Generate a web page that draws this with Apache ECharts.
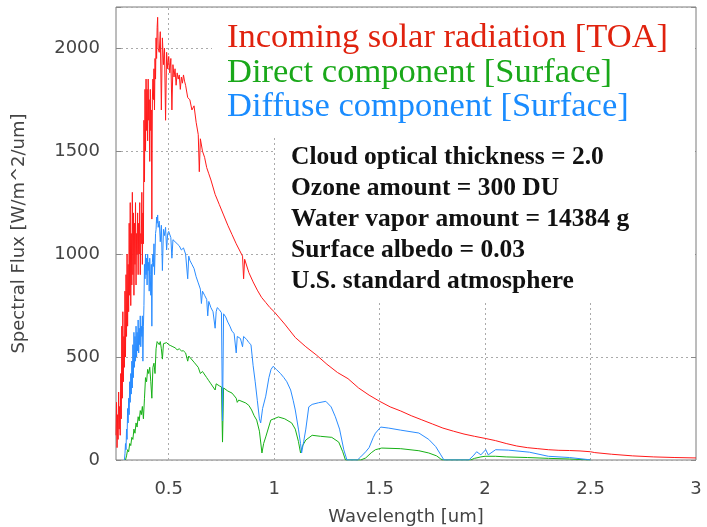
<!DOCTYPE html>
<html><head><meta charset="utf-8">
<script src="https://cdn.jsdelivr.net/npm/echarts@6/dist/echarts.min.js"></script>
<style>html,body{margin:0;padding:0;background:#fff}#c{width:707px;height:527px}</style>
</head><body><div id="c"></div><script>
// ---- data ----
const xGridValues = [0.5, 1, 1.5, 2, 2.5];
const legendTexts = ['Incoming solar radiation [TOA]', 'Direct component [Surface]', 'Diffuse component [Surface]'];
const infoTexts = ['Cloud optical thickness = 2.0', 'Ozone amount = 300 DU', 'Water vapor amount = 14384 g', 'Surface albedo = 0.03', 'U.S. standard atmosphere'];

const redWl = [0.2500,0.2525,0.2550,0.2575,0.2600,0.2625,0.2650,0.2675,0.2700,0.2725,0.2750,0.2775,0.2800,0.2825,0.2850,0.2875,0.2900,0.2925,0.2950,0.2975,0.3000,0.3025,0.3050,0.3075,0.3100,0.3125,0.3150,0.3175,0.3200,0.3225,0.3250,0.3275,0.3300,0.3325,0.3350,0.3375,0.3400,0.3425,0.3450,0.3475,0.3500,0.3525,0.3550,0.3575,0.3600,0.3625,0.3650,0.3675,0.3700,0.3725,0.3750,0.3775,0.3800,0.3825,0.3850,0.3875,0.3900,0.3925,0.3950,0.3975,0.4000,0.4025,0.4050,0.4075,0.4100,0.4125,0.4150,0.4175,0.4200,0.4225,0.4250,0.4275,0.4300,0.4325,0.4350,0.4375,0.4400,0.4425,0.4450,0.4475,0.4500,0.455,0.460,0.465,0.470,0.475,0.480,0.485,0.490,0.495,0.500,0.505,0.510,0.515,0.520,0.525,0.530,0.535,0.540,0.545,0.550,0.555,0.560,0.565,0.570,0.575,0.580,0.590,0.600,0.610,0.620,0.630,0.640,0.645,0.650,0.660,0.670,0.680,0.690,0.700,0.720,0.740,0.760,0.780,0.800,0.820,0.840,0.850,0.855,0.860,0.880,0.900,0.920,0.940,0.960,0.980,1.000,1.050,1.100,1.150,1.200,1.250,1.300,1.350,1.400,1.450,1.500,1.550,1.600,1.650,1.700,1.750,1.800,1.850,1.900,1.950,2.000,2.050,2.100,2.150,2.200,2.250,2.300,2.350,2.400,2.450,2.500,2.520,2.600,2.700,2.800,2.900,3.000];
const redFlux = [120,280,60,220,100,330,150,260,120,420,200,650,300,720,380,600,450,820,500,900,600,1000,650,950,720,1150,800,1250,750,1100,850,1300,900,1200,800,1150,950,1250,850,1100,1000,1200,900,1150,1000,1250,900,1100,1050,1300,950,1200,1050,1650,1350,1800,1500,1850,1600,1800,1550,1850,1650,1750,1450,1800,1600,1700,1170,1750,1850,1750,1900,1700,1950,1850,2050,1950,2100,2150,2000,1980,2080,1700,2050,1920,2000,1650,1980,1900,1960,1880,1950,1700,1920,1860,1900,1820,1880,1850,1870,1800,1860,1830,1870,1840,1820,1760,1750,1700,1720,1640,1580,1400,1560,1500,1470,1420,1390,1360,1290,1240,1190,1140,1095,1050,1010,990,880,975,910,865,825,790,765,740,720,660,595,550,510,465,425,395,350,315,285,258,238,215,195,175,155,140,126,115,105,94,80,68,60,55,50,47,46,44,40,36,28,20,15,12,10];

const greenWl = [0.295,0.300,0.305,0.310,0.315,0.320,0.325,0.330,0.335,0.340,0.345,0.350,0.355,0.360,0.365,0.370,0.375,0.380,0.385,0.390,0.395,0.400,0.405,0.410,0.415,0.420,0.425,0.430,0.435,0.440,0.445,0.450,0.455,0.460,0.465,0.470,0.475,0.480,0.490,0.500,0.510,0.520,0.530,0.540,0.550,0.560,0.570,0.580,0.590,0.595,0.600,0.620,0.640,0.650,0.660,0.680,0.690,0.700,0.720,0.725,0.740,0.750,0.755,0.760,0.780,0.800,0.820,0.825,0.832,0.865,0.880,0.893,0.905,0.917,0.930,0.942,0.950,0.960,0.984,1.020,1.050,1.083,1.100,1.115,1.125,1.135,1.150,1.180,1.220,1.273,1.306,1.325,1.338,1.410,1.434,1.460,1.480,1.510,1.600,1.686,1.733,1.770,1.790,1.800,1.930,1.950,1.980,2.000,2.050,2.100,2.200,2.300,2.400,2.500];
const greenFlux = [0,20,50,40,80,70,110,100,150,130,180,160,210,190,240,220,260,200,300,400,380,440,420,450,380,300,450,470,420,540,575,580,560,575,540,490,565,560,570,560,555,550,545,535,540,530,530,520,480,505,500,475,450,420,430,400,385,370,340,370,360,355,87,350,335,325,300,280,291,277,265,243,215,194,140,34,80,112,194,209,200,180,150,90,34,70,97,120,115,110,87,40,0,0,10,35,50,58,55,45,34,20,5,0,0,8,15,18,18,15,12,8,5,0];

const blueWl = [0.2900,0.2925,0.2950,0.2975,0.3000,0.3025,0.3050,0.3075,0.3100,0.3125,0.3150,0.3175,0.3200,0.3225,0.3250,0.3275,0.3300,0.3325,0.3350,0.3375,0.3400,0.3425,0.3450,0.3475,0.3500,0.3525,0.3550,0.3575,0.3600,0.3625,0.3650,0.3675,0.3700,0.3725,0.3750,0.3775,0.3800,0.3825,0.3850,0.3875,0.3900,0.3925,0.3950,0.3975,0.4000,0.4025,0.4050,0.4075,0.4100,0.4125,0.4150,0.4175,0.4200,0.4225,0.4250,0.4275,0.4300,0.4325,0.4350,0.4375,0.4400,0.4425,0.4450,0.4475,0.4500,0.455,0.460,0.465,0.470,0.475,0.480,0.485,0.490,0.495,0.500,0.510,0.515,0.520,0.530,0.540,0.550,0.560,0.570,0.580,0.590,0.595,0.600,0.610,0.620,0.630,0.640,0.650,0.655,0.660,0.670,0.680,0.685,0.690,0.700,0.710,0.720,0.725,0.730,0.740,0.750,0.755,0.760,0.770,0.780,0.790,0.800,0.810,0.820,0.825,0.840,0.850,0.855,0.870,0.880,0.890,0.900,0.910,0.920,0.930,0.936,0.945,0.960,0.975,0.985,0.995,1.010,1.030,1.046,1.060,1.078,1.090,1.100,1.115,1.125,1.130,1.140,1.150,1.164,1.180,1.210,1.245,1.270,1.290,1.310,1.330,1.345,1.395,1.410,1.434,1.450,1.470,1.480,1.505,1.543,1.600,1.686,1.733,1.766,1.790,1.805,1.923,1.947,1.960,1.980,2.003,2.015,2.050,2.110,2.210,2.300,2.400,2.480,2.500];
const blueFlux = [0,30,80,50,150,100,250,180,300,220,380,280,420,320,480,350,560,400,620,450,600,480,650,500,620,530,680,520,640,560,700,550,650,600,700,480,650,750,950,880,1000,900,980,850,1000,920,960,820,980,900,800,950,650,960,1000,940,1050,900,1000,1100,1120,1180,1150,1190,1130,1160,1060,1140,920,1120,1090,1130,1020,1100,1110,1080,980,1070,1060,1050,1040,1020,1030,1000,880,990,970,950,930,890,860,830,760,820,800,780,700,770,740,720,640,720,740,730,715,190,710,695,670,650,625,615,520,600,590,550,600,585,570,560,460,380,290,200,180,250,310,400,440,455,440,420,400,380,340,290,243,150,80,34,90,150,258,270,278,285,258,210,150,50,0,0,15,40,60,110,130,160,155,145,131,100,65,25,0,0,24,40,25,50,25,50,48,38,18,12,3,0];

const zip = (a, b) => a.map((v, i) => [v, b[i]]);

const chart = echarts.init(document.getElementById('c'), null, {renderer: 'canvas'});
const labelFont = {fontFamily: 'DejaVu Sans', fontSize: 18, color: '#444'};
const lineSeries = (name, wl, flux, color) => ({
  name, type: 'line', data: zip(wl, flux), showSymbol: false, symbol: 'none',
  lineStyle: {color, width: 1}, itemStyle: {color}, sampling: null, z: 2
});

const legendColors = ['#e0220e', '#1aa81a', '#1a8cff'];
const legendY = [38, 73, 107];
const infoY = [157, 188, 219, 250, 281];

const graphics = [
  {type: 'rect', z: 10, shape: {x: 212, y: 8, width: 483, height: 130}, style: {fill: '#fff'}, silent: true},
  {type: 'rect', z: 10, shape: {x: 276, y: 138, width: 419, height: 163}, style: {fill: '#fff'}, silent: true}
];
legendTexts.forEach((t, i) => graphics.push({type: 'text', z: 11, x: 227, y: legendY[i],
  style: {text: t, font: '34.5px "Liberation Serif"', fill: legendColors[i], verticalAlign: 'middle'}}));
infoTexts.forEach((t, i) => graphics.push({type: 'text', z: 11, x: 291, y: infoY[i],
  style: {text: t, font: 'bold 25.5px "Liberation Serif"', fill: '#111', verticalAlign: 'middle'}}));

chart.setOption({
  animation: false,
  backgroundColor: '#fff',
  grid: {left: 116, top: 7, width: 580, height: 453, show: true, borderColor: '#7a7a7a', borderWidth: 1,
    containLabel: false, outerBoundsMode: 'none'},
  xAxis: {
    type: 'value', min: 0.25, max: 3, interval: 0.25,
    name: 'Wavelength [um]', nameLocation: 'middle', nameGap: 48,
    nameTextStyle: labelFont,
    axisLine: {show: false}, axisTick: {show: false}, splitLine: {show: false},
    axisLabel: Object.assign({margin: 20, formatter: v => (Math.abs(v * 2 - Math.round(v * 2)) < 1e-6 ? String(+v.toFixed(2)) : '')}, labelFont)
  },
  yAxis: [{
    type: 'value', min: 0, max: 2200, interval: 500,
    name: 'Spectral Flux [W/m^2/um]', nameLocation: 'middle', nameGap: 88,
    nameTextStyle: labelFont,
    axisLine: {show: false},
    axisTick: {show: true, inside: true, length: 5, lineStyle: {color: '#888'}},
    splitLine: {show: true, lineStyle: {color: '#aaa', type: [2, 3], width: 1}},
    axisLabel: Object.assign({margin: 16, formatter: v => (v > 2100 ? '' : String(v))}, labelFont)
  }, {
    type: 'value', min: 0, max: 2200, interval: 500, position: 'right',
    axisLine: {show: false}, axisLabel: {show: false}, splitLine: {show: false},
    axisTick: {show: true, inside: true, length: 5, lineStyle: {color: '#888'}}
  }],
  series: [
    Object.assign(lineSeries('Incoming solar radiation [TOA]', redWl, redFlux, '#ff1a1a'), {
      markLine: {silent: true, z: 1, symbol: ['none', 'none'], label: {show: false}, animation: false,
        lineStyle: {color: '#aaa', type: [2, 3], width: 1},
        data: xGridValues.map(v => ({xAxis: v}))}
    }),
    lineSeries('Direct component [Surface]', greenWl, greenFlux, '#16b016'),
    lineSeries('Diffuse component [Surface]', blueWl, blueFlux, '#2a8cff')
  ],
  graphic: graphics
});
</script></body></html>
